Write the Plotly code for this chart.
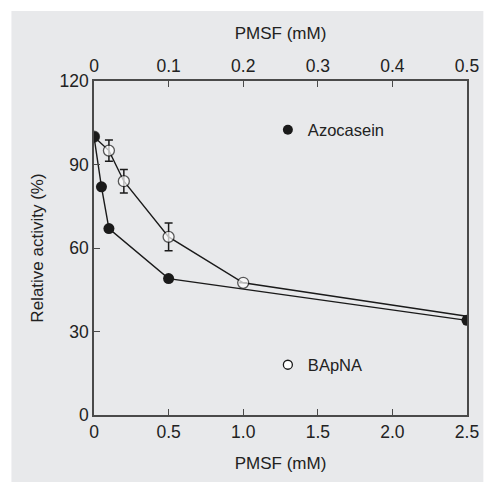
import plotly.graph_objects as go

# Data
azo_x = [0, 0.05, 0.1, 0.5, 2.5]
azo_y = [100, 82, 67, 49, 34]
bap_x = [0, 0.1, 0.2, 0.5, 1.0, 2.5]
bap_y = [100, 95, 84, 64, 47.5, 35.5]
bap_err = [0, 3.8, 4.2, 5, 0, 0]
bap_marker_size = [11, 11, 11, 11, 11, 0]
x_ticks = [0, 0.5, 1.0, 1.5, 2.0, 2.5]
x_ticklabels = ["0", "0.5", "1.0", "1.5", "2.0", "2.5"]
x2_ticks = [0, 0.1, 0.2, 0.3, 0.4, 0.5]
x2_ticklabels = ["0", "0.1", "0.2", "0.3", "0.4", "0.5"]
y_ticks = [0, 30, 60, 90, 120]

FONT = "Liberation Sans"
AX = "#4a4a4a"
BG = "#e8e9eb"
INK = "#1a1a1a"
TXT = "#222"

fig = go.Figure()

fig.add_trace(go.Scatter(
    x=bap_x, y=bap_y, mode="lines+markers", showlegend=False,
    line=dict(color=INK, width=1.4),
    marker=dict(symbol="circle", size=bap_marker_size, color="white",
                line=dict(color=INK, width=1.3)),
    error_y=dict(type="data", array=bap_err, visible=True, color=INK,
                 thickness=1.5, width=4),
))
fig.add_trace(go.Scatter(
    x=azo_x, y=azo_y, mode="lines+markers", showlegend=False,
    line=dict(color=INK, width=1.4),
    marker=dict(symbol="circle", size=11, color=INK),
))

# legend-only traces
fig.add_trace(go.Scatter(
    x=[None], y=[None], mode="markers", name="Azocasein", legend="legend",
    marker=dict(symbol="circle", size=10, color=INK),
))
fig.add_trace(go.Scatter(
    x=[None], y=[None], mode="markers", name="BApNA", legend="legend2",
    marker=dict(symbol="circle", size=9, color="white", line=dict(color=INK, width=1.3)),
))

# top axis dummy trace
fig.add_trace(go.Scatter(x=[0, 0.5], y=[None, None], xaxis="x2", showlegend=False,
                         hoverinfo="skip", mode="markers"))

L, R, T, B = 94, 13, 81, 67
W, H = 491, 482
pw = W - L - R
ph = H - T - B

# gray backdrop shape (paper coords)
fig.add_shape(type="rect", xref="paper", yref="paper",
              x0=(9 - L) / pw, x1=(W - L) / pw + 0.01,
              y0=-(H - T - ph) / ph - 0.01, y1=(T - 11) / ph + 1,
              fillcolor=BG, line=dict(width=0), layer="below")

axis_common = dict(showline=True, linecolor=AX, linewidth=1.6, ticks="inside",
                   ticklen=6, tickwidth=1.4, tickcolor=AX, showgrid=False,
                   zeroline=False, tickfont=dict(family=FONT, size=17.5, color=TXT))

TITLE_FONT = dict(family=FONT, size=17, color=TXT)

fig.update_layout(
    width=W, height=H,
    margin=dict(l=L, r=R, t=T, b=B),
    paper_bgcolor="white", plot_bgcolor="rgba(0,0,0,0)",
    font=dict(family=FONT, size=16.5, color=TXT),
    xaxis=dict(range=[0, 2.5], tickvals=x_ticks, ticktext=x_ticklabels,
               title=dict(text="PMSF (mM)", font=TITLE_FONT, standoff=16),
               **axis_common),
    xaxis2=dict(range=[0, 0.5], tickvals=x2_ticks, ticktext=x2_ticklabels,
                overlaying="x", side="top", anchor="y",
                title=dict(text="PMSF (mM)", font=TITLE_FONT, standoff=12),
                **axis_common),
    yaxis=dict(range=[0, 120], tickvals=y_ticks, mirror=True,
               title=dict(text="Relative activity (%)", font=TITLE_FONT, standoff=12),
               **axis_common),
    legend=dict(x=(273 - L) / pw, y=(H - B - 130) / ph, xanchor="left", yanchor="middle",
                bgcolor="rgba(0,0,0,0)", font=dict(family=FONT, size=16.5, color=TXT),
                itemwidth=30),
    legend2=dict(x=(273 - L) / pw, y=(H - B - 365) / ph, xanchor="left", yanchor="middle",
                 bgcolor="rgba(0,0,0,0)", font=dict(family=FONT, size=16.5, color=TXT),
                 itemwidth=30),
)

fig.write_html("out.html")
